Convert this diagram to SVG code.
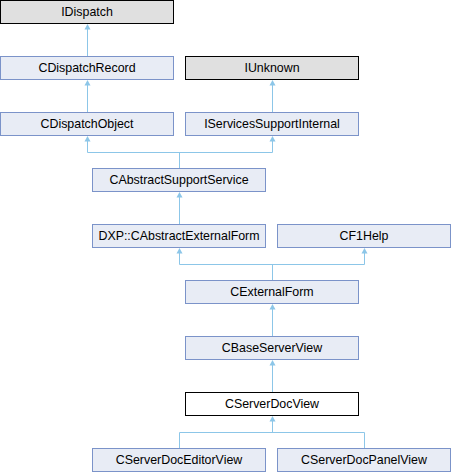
<svg xmlns="http://www.w3.org/2000/svg" width="452" height="472" viewBox="0 0 452 472">
<defs>
<style>
.n rect{fill:#e8ecf5;stroke:#7b93c9;stroke-width:1}
.g rect{fill:#e0e0e0;stroke:#000;stroke-width:1}
.w rect{fill:#fff;stroke:#000;stroke-width:1}
text{font-family:"Liberation Sans",Arial,sans-serif;font-size:12.4px;fill:#000;text-anchor:middle}
.c path{fill:none;stroke:#8cc6e8;stroke-width:1}
.c polygon{fill:#8cc6e8;stroke:none}
</style>
</defs>
<rect width="452" height="472" fill="#fff"/>
<g class="c" id="connectors">
<path d="M87.5,29 V56"/><polygon points="87.5,24 84.5,29.5 90.5,29.5"/>
<path d="M87.5,85 V112"/><polygon points="87.5,80 84.5,85.5 90.5,85.5"/>
<path d="M272.5,85 V112"/><polygon points="272.5,80 269.5,85.5 275.5,85.5"/>
<path d="M87.5,141 V152.5 H272.5 V141 M179.5,152.5 V168"/>
<polygon points="87.5,136 84.5,141.5 90.5,141.5"/><polygon points="272.5,136 269.5,141.5 275.5,141.5"/>
<path d="M179.5,197 V224"/><polygon points="179.5,192 176.5,197.5 182.5,197.5"/>
<path d="M179.5,253 V264.5 H364.5 V253 M272.5,264.5 V280"/>
<polygon points="179.5,248 176.5,253.5 182.5,253.5"/><polygon points="364.5,248 361.5,253.5 367.5,253.5"/>
<path d="M272.5,309 V336"/><polygon points="272.5,304 269.5,309.5 275.5,309.5"/>
<path d="M272.5,365 V392"/><polygon points="272.5,360 269.5,365.5 275.5,365.5"/>
<path d="M272.5,421 V432.5 M179.5,448 V432.5 H364.5 V448"/><polygon points="272.5,416 269.5,421.5 275.5,421.5"/>
</g>
<g id="IDispatch" class="g"><rect x="0.5" y="0.5" width="173" height="23"/><text x="87" y="16">IDispatch</text></g>
<g id="CDispatchRecord" class="n"><rect x="0.5" y="56.5" width="173" height="23"/><text x="87" y="72">CDispatchRecord</text></g>
<g id="IUnknown" class="g"><rect x="185.5" y="56.5" width="173" height="23"/><text x="272" y="72">IUnknown</text></g>
<g id="CDispatchObject" class="n"><rect x="0.5" y="112.5" width="173" height="23"/><text x="87" y="128">CDispatchObject</text></g>
<g id="IServicesSupportInternal" class="n"><rect x="185.5" y="112.5" width="173" height="23"/><text x="272" y="128">IServicesSupportInternal</text></g>
<g id="CAbstractSupportService" class="n"><rect x="92.5" y="168.5" width="173" height="23"/><text x="179" y="184">CAbstractSupportService</text></g>
<g id="CAbstractExternalForm" class="n"><rect x="92.5" y="224.5" width="173" height="23"/><text x="179" y="240">DXP::CAbstractExternalForm</text></g>
<g id="CF1Help" class="n"><rect x="277.5" y="224.5" width="173" height="23"/><text x="364" y="240">CF1Help</text></g>
<g id="CExternalForm" class="n"><rect x="185.5" y="280.5" width="173" height="23"/><text x="272" y="296">CExternalForm</text></g>
<g id="CBaseServerView" class="n"><rect x="185.5" y="336.5" width="173" height="23"/><text x="272" y="352">CBaseServerView</text></g>
<g id="CServerDocView" class="w"><rect x="185.5" y="392.5" width="173" height="23"/><text x="272" y="408">CServerDocView</text></g>
<g id="CServerDocEditorView" class="n"><rect x="92.5" y="448.5" width="173" height="23"/><text x="179" y="464">CServerDocEditorView</text></g>
<g id="CServerDocPanelView" class="n"><rect x="277.5" y="448.5" width="173" height="23"/><text x="364" y="464">CServerDocPanelView</text></g>
</svg>
